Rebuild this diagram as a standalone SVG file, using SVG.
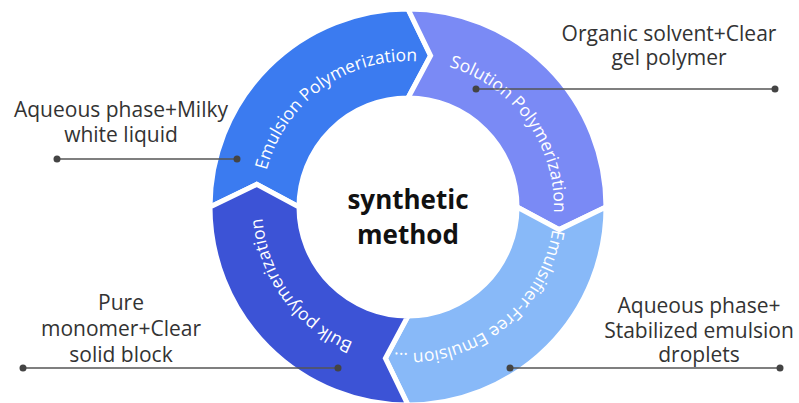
<svg xmlns="http://www.w3.org/2000/svg" width="799" height="403" viewBox="0 0 799 403">
  <defs>
    <style>
      .seg { stroke: #ffffff; stroke-width: 5; stroke-linejoin: miter; }
      .arc-label { font-family: "Open Sans", "Noto Sans", sans-serif; font-size: 17.5px; fill: #ffffff; }
      .center { font-family: "Open Sans", "Noto Sans", sans-serif; font-size: 26px; font-weight: bold; fill: #111111; text-anchor: middle; }
      .note { font-family: "Open Sans", "Noto Sans", sans-serif; font-size: 21px; fill: #333333; text-anchor: middle; }
      .leader { stroke: #555555; stroke-width: 1.5; fill: none; }
      .dot { fill: #444444; }
    </style>
    <!-- clockwise circle of radius 146 round the ring centre, starting at the left -->
    <path id="labelCircle" d="M 262 207 A 146 146 0 1 1 554 207 A 146 146 0 1 1 262 207"/>
  </defs>

  <rect width="799" height="403" fill="#ffffff"/>

  <!-- ring segments, each ending in a chevron that points clockwise -->
  <g id="emulsion">
    <path class="seg" fill="#3b7bf0" d="M 210 207 A 198 198 0 0 1 408 9 L 430.6 55.7 L 408 98 A 109 109 0 0 0 299 207 L 256.7 184.4 Z"/>
    <text class="arc-label"><textPath href="#labelCircle" startOffset="137.6" text-anchor="middle">Emulsion Polymerization</textPath></text>
  </g>
  <g id="solution">
    <path class="seg" fill="#7a8af5" d="M 408 9 A 198 198 0 0 1 606 207 L 559.3 229.6 L 517 207 A 109 109 0 0 0 408 98 L 430.6 55.7 Z"/>
    <text class="arc-label"><textPath href="#labelCircle" startOffset="367.6" text-anchor="middle">Solution Polymerization</textPath></text>
  </g>
  <g id="emulsifier-free">
    <path class="seg" fill="#88b9f8" d="M 606 207 A 198 198 0 0 1 408 405 L 385.4 358.3 L 408 316 A 109 109 0 0 0 517 207 L 559.3 229.6 Z"/>
    <text class="arc-label"><textPath href="#labelCircle" startOffset="591.2" text-anchor="middle">Emulsifier-Free Emulsion ...</textPath></text>
  </g>
  <g id="bulk">
    <path class="seg" fill="#3c53d6" d="M 408 405 A 198 198 0 0 1 210 207 L 256.7 184.4 L 299 207 A 109 109 0 0 0 408 316 L 385.4 358.3 Z"/>
    <text class="arc-label"><textPath href="#labelCircle" startOffset="824.9" text-anchor="middle">Bulk polymerization</textPath></text>
  </g>

  <g id="centre">
    <text class="center" x="408" y="209">synthetic</text>
    <text class="center" x="408" y="244">method</text>
  </g>

  <!-- notes -->
  <g id="note-emulsion">
    <text class="note" x="121" y="117">Aqueous phase+Milky</text>
    <text class="note" x="121" y="142">white liquid</text>
  </g>
  <g id="note-solution">
    <text class="note" x="669" y="41">Organic solvent+Clear</text>
    <text class="note" x="669" y="65">gel polymer</text>
  </g>
  <g id="note-bulk">
    <text class="note" x="121" y="310">Pure</text>
    <text class="note" x="121" y="336">monomer+Clear</text>
    <text class="note" x="121" y="362">solid block</text>
  </g>
  <g id="note-emulsifier-free">
    <text class="note" x="699" y="313">Aqueous phase+</text>
    <text class="note" x="699" y="338">Stabilized emulsion</text>
    <text class="note" x="699" y="362">droplets</text>
  </g>

  <!-- leader lines -->
  <g id="connectors">
    <line class="leader" x1="57" y1="159" x2="237" y2="159"/>
    <circle class="dot" cx="57" cy="159" r="3.5"/>
    <circle class="dot" cx="237" cy="159" r="3.5"/>
    <line class="leader" x1="476" y1="89" x2="775" y2="89"/>
    <circle class="dot" cx="476" cy="89" r="3.5"/>
    <circle class="dot" cx="775" cy="89" r="3.5"/>
    <line class="leader" x1="23" y1="368" x2="338" y2="368"/>
    <circle class="dot" cx="23" cy="368" r="3.5"/>
    <circle class="dot" cx="338" cy="368" r="3.5"/>
    <line class="leader" x1="510" y1="368" x2="780" y2="368"/>
    <circle class="dot" cx="510" cy="368" r="3.5"/>
    <circle class="dot" cx="780" cy="368" r="3.5"/>
  </g>
</svg>
